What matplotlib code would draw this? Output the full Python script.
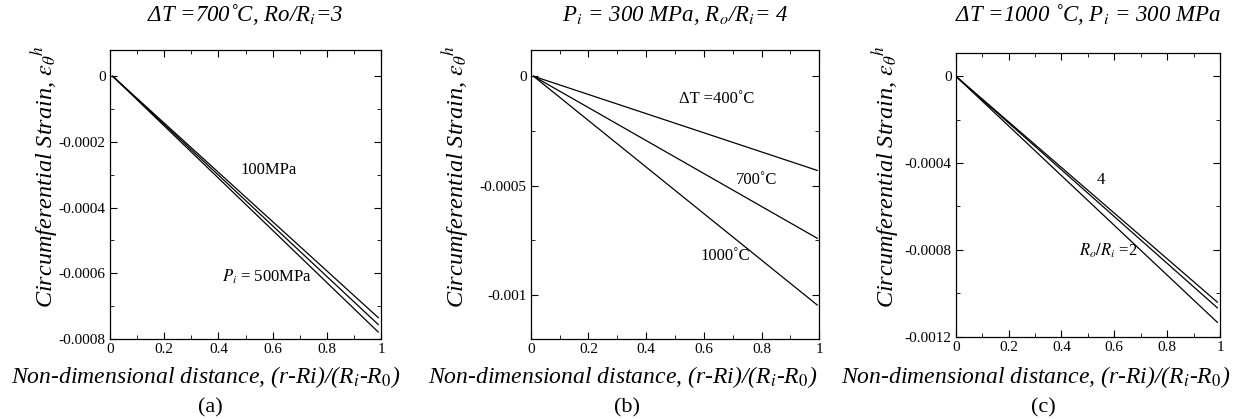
import matplotlib
matplotlib.use('Agg')
import matplotlib.pyplot as plt
from matplotlib.ticker import MultipleLocator, FuncFormatter

plt.rcParams['font.family'] = ['Liberation Serif', 'DejaVu Serif']
plt.rcParams['mathtext.fontset'] = 'stix'

# distance values (ends of each curve)
x_a = [0.01, 0.99]
x_b = [0.01, 0.993]
x_c = [0.0, 0.99]

# (a) dT = 700C, Ro/Ri = 3, pressures
a_100 = [0, -0.000735]
a_300 = [0, -0.000756]
a_500 = [0, -0.000779]

# (b) Pi = 300 MPa, Ro/Ri = 4, temperatures
b_400 = [0, -0.00043]
b_700 = [0, -0.00074]
b_1000 = [0, -0.001045]

# (c) dT = 1000C, Pi = 300 MPa, radius ratios
c_4 = [0, -0.001041]
c_3 = [0, -0.001067]
c_2 = [0, -0.001134]

W, H = 1241, 419
fig = plt.figure(figsize=(W / 100, H / 100), dpi=100)


def box(left, right, top, bottom):
    return [left / W, (H - bottom) / H, (right - left) / W, (bottom - top) / H]


fmt = FuncFormatter(lambda v, p: '{:g}'.format(round(v, 6)) if abs(v) > 1e-12 else '0')


def style(ax, ylim, ymaj, ymin):
    ax.set_xlim(0, 1)
    ax.set_ylim(*ylim)
    ax.xaxis.set_major_locator(MultipleLocator(0.2))
    ax.xaxis.set_minor_locator(MultipleLocator(0.1))
    ax.yaxis.set_major_locator(MultipleLocator(ymaj))
    ax.yaxis.set_minor_locator(MultipleLocator(ymin))
    ax.xaxis.set_major_formatter(fmt)
    ax.yaxis.set_major_formatter(fmt)
    ax.tick_params(which='both', direction='in', top=True, right=True, labelsize=11, pad=3)
    ax.tick_params(which='major', length=5)
    ax.tick_params(which='minor', length=3)
    for s in ax.spines.values():
        s.set_linewidth(0.9)


ylab = r'Circumferential Strain, $\varepsilon_\theta{}^h$'
xlab = r'Non-dimensional distance, (r-Ri)/(R$_i$-R$_0$)'
lw = 0.9
fs = 12

# panel (a)
ax1 = fig.add_axes(box(110, 381, 50, 339))
ax1.plot(x_a, a_100, color='black', lw=lw)
ax1.plot(x_a, a_300, color='black', lw=lw)
ax1.plot(x_a, a_500, color='black', lw=lw)
style(ax1, (-0.0008, 0.00008), 0.0002, 0.0001)
ax1.text(0.585, -0.000285, '100MPa', ha='center', va='center', fontsize=fs)
ax1.text(0.58, -0.000612, r'$P_i$ = 500MPa', ha='center', va='center', fontsize=fs)

# panel (b)
ax2 = fig.add_axes(box(530.7, 819.3, 50, 339))
ax2.plot(x_b, b_400, color='black', lw=lw)
ax2.plot(x_b, b_700, color='black', lw=lw)
ax2.plot(x_b, b_1000, color='black', lw=lw)
style(ax2, (-0.0012, 0.00012), 0.0005, 0.00025)
ax2.text(0.645, -0.000102, 'ΔT =400˚C', ha='center', va='center', fontsize=fs)
ax2.text(0.783, -0.000473, '700˚C', ha='center', va='center', fontsize=fs)
ax2.text(0.673, -0.000821, '1000˚C', ha='center', va='center', fontsize=fs)

# panel (c)
ax3 = fig.add_axes(box(955.7, 1220, 53.3, 336.7))
ax3.plot(x_c, c_4, color='black', lw=lw)
ax3.plot(x_c, c_3, color='black', lw=lw)
ax3.plot(x_c, c_2, color='black', lw=lw)
style(ax3, (-0.0012, 0.000105), 0.0004, 0.0002)
ax3.text(0.55, -0.00048, '4', ha='center', va='center', fontsize=fs)
ax3.text(0.577, -0.000803, r'$R_o/R_i$ =2', ha='center', va='center', fontsize=fs)

titles = ['ΔT =700˚C, Ro/R$_i$=3',
          r'P$_i$ = 300 MPa, R$_o$/R$_i$= 4',
          r'ΔT =1000 ˚C, P$_i$ = 300 MPa']
tags = ['(a)', '(b)', '(c)']
ylab_x = [45, 456, 886]
xlab_x = [206, 623, 1036]
tag_x = [210, 627, 1043]
for ax, t, tag, yx, xx, tx in zip([ax1, ax2, ax3], titles, tags, ylab_x, xlab_x, tag_x):
    pos = ax.get_position()
    cx = pos.x0 + pos.width / 2
    fig.text(cx, 1 - 21 / H, t, ha='center', va='baseline', fontsize=16.5, style='italic')
    fig.text(xx / W, 1 - 377 / H, xlab, ha='center', va='center', fontsize=17, style='italic')
    fig.text(tx / W, 1 - 408 / H, tag, ha='center', va='center', fontsize=16)
    fig.text(yx / W, 1 - 177 / H, ylab, ha='center', va='center', fontsize=17.5,
             style='italic', rotation=90)

fig.savefig('out.png', dpi=100)
